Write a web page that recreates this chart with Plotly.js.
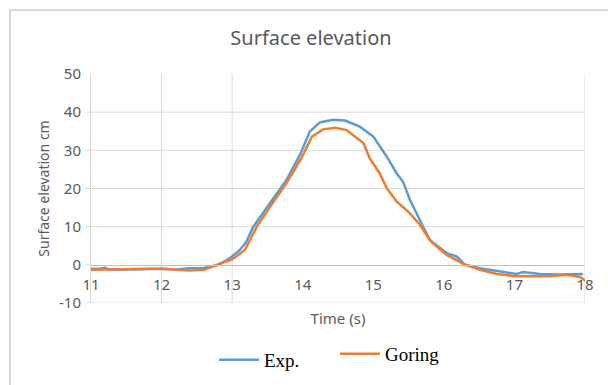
<!DOCTYPE html>
<html>
<head>
<meta charset="utf-8">
<script src="https://cdn.plot.ly/plotly-3.0.1.min.js"></script>
<style>html,body{margin:0;padding:0;background:#fff;}#chart{width:608px;height:385px;}</style>
</head>
<body>
<div id="chart"></div>
<script>
// ---- data ----
var expTime = [11.0, 11.1, 11.2, 11.25, 11.4, 11.6, 11.8, 12.0, 12.2, 12.4, 12.6, 12.78, 12.9, 13.0, 13.11, 13.2, 13.3, 13.42, 13.58, 13.77, 13.96, 14.10, 14.24, 14.43, 14.60, 14.81, 15.00, 15.19, 15.33, 15.42, 15.52, 15.66, 15.80, 15.92, 16.05, 16.18, 16.25, 16.30, 16.51, 16.79, 17.03, 17.12, 17.20, 17.36, 17.6, 17.83, 17.97];
var expElev = [-1.0, -1.1, -0.8, -1.2, -1.3, -1.2, -1.1, -1.0, -1.2, -0.9, -0.8, -0.1, 1.0, 2.2, 3.9, 6.0, 10.0, 13.1, 17.0, 22.2, 28.8, 34.9, 37.3, 38.0, 37.8, 36.2, 33.6, 28.4, 24.0, 21.8, 17.0, 11.8, 6.5, 4.8, 3.0, 2.2, 0.9, 0.0, -0.9, -1.7, -2.4, -1.9, -2.1, -2.4, -2.5, -2.4, -2.4];

var goringTime = [11.0, 11.2, 11.5, 11.8, 12.0, 12.2, 12.4, 12.6, 12.7, 12.8, 12.9, 13.0, 13.18, 13.35, 13.54, 13.77, 13.98, 14.13, 14.29, 14.46, 14.62, 14.76, 14.86, 14.95, 15.09, 15.19, 15.33, 15.52, 15.66, 15.82, 16.04, 16.27, 16.51, 16.75, 16.98, 17.22, 17.5, 17.74, 17.93, 18.0];
var goringElev = [-1.3, -1.2, -1.1, -1.0, -1.0, -1.3, -1.5, -1.3, -0.6, 0.0, 0.7, 1.4, 3.9, 10.0, 15.3, 21.4, 27.9, 33.6, 35.5, 35.9, 35.3, 33.2, 31.9, 27.9, 24.0, 20.1, 16.6, 13.5, 10.5, 6.1, 2.6, 0.3, -1.3, -2.4, -2.9, -3.0, -3.0, -2.6, -3.2, -4.1];

var xTickVals = [11, 12, 13, 14, 15, 16, 17, 18];
var yTickVals = [-10, 0, 10, 20, 30, 40, 50];
var yTickText = ['-10', '0', '10', '20', '30', '40', '50'];
var yGridVals = [-10, 10, 20, 30, 40];
var xGridVals = [12, 13, 18];

var seriesNames = ['Exp.', 'Goring'];
var titleText = 'Surface elevation';
var xTitle = 'Time (s)';
var yTitle = 'Surface elevation cm';

// ---- styles ----
var gridColor = '#d9d9d9';
var txtColor = '#595959';
var fontFam = 'Noto Sans, Open Sans, sans-serif';

var shapes = [];
// outer chart border
shapes.push({type:'rect', xref:'paper', yref:'paper', x0:-0.164, x1:1.5, y0:-0.6, y1:1.2795,
  line:{color:'#d9d9d9', width:2}, layer:'below'});
yGridVals.forEach(function(v){
  shapes.push({type:'line', xref:'paper', yref:'y', x0:-0.012, x1:1, y0:v, y1:v,
    line:{color:gridColor, width:1}, layer:'below'});
});
xGridVals.forEach(function(v){
  shapes.push({type:'line', xref:'x', yref:'paper', x0:v, x1:v, y0:0, y1:1,
    line:{color:gridColor, width:1}, layer:'below'});
});
shapes.push({type:'line', xref:'paper', yref:'y', x0:-0.012, x1:0, y0:0, y1:0,
  line:{color:gridColor, width:1}, layer:'below'});

var traces = [
  {x: expTime, y: expElev, type:'scatter', mode:'lines', name: seriesNames[0],
   line:{color:'#5B9BD5', width:2.5}, legend:'legend'},
  {x: goringTime, y: goringElev, type:'scatter', mode:'lines', name: seriesNames[1],
   line:{color:'#ED7D31', width:2.5}, legend:'legend2'}
];

var legendFont = {family:'Liberation Serif, Times New Roman, serif', size:19, color:'#000'};

var layout = {
  width:608, height:385,
  margin:{l:91, r:23, t:74, b:82},
  paper_bgcolor:'#ffffff', plot_bgcolor:'rgba(0,0,0,0)',
  font:{family:fontFam, color:txtColor},
  title:{text:titleText, font:{family:fontFam, size:20, color:txtColor},
    x:311/608, xref:'container', xanchor:'center', y:1-38/385, yref:'container', yanchor:'middle'},
  xaxis:{range:[11,18], tickvals:xTickVals, ticktext:xTickVals.map(String),
    showgrid:false, zeroline:false, showline:true, linecolor:'#bfbfbf', linewidth:1,
    anchor:'free', position:1/6, ticks:'outside', ticklen:6, tickcolor:'rgba(0,0,0,0)',
    tickfont:{family:fontFam, size:15, color:txtColor},
    title:{text:xTitle, font:{family:fontFam, size:15, color:txtColor}, standoff:20}},
  yaxis:{range:[-10,50], tickvals:yTickVals, ticktext:yTickText, showgrid:false, zeroline:false,
    showline:true, linecolor:gridColor, linewidth:1, ticks:'outside', ticklen:6, tickcolor:'rgba(0,0,0,0)',
    tickfont:{family:fontFam, size:15, color:txtColor},
    title:{text:yTitle, font:{family:fontFam, size:14, color:txtColor}, standoff:6}},
  showlegend:true,
  legend:{xref:'container', yref:'container', x:214/608, y:1-360/385, xanchor:'left', yanchor:'middle',
    font:legendFont, itemwidth:40, bgcolor:'rgba(255,255,255,0)', orientation:'h'},
  legend2:{xref:'container', yref:'container', x:335/608, y:1-354/385, xanchor:'left', yanchor:'middle',
    font:legendFont, itemwidth:40, bgcolor:'rgba(255,255,255,0)', orientation:'h'},
  shapes:shapes
};

Plotly.newPlot('chart', traces, layout, {displayModeBar:false, staticPlot:true});
</script>
</body>
</html>
